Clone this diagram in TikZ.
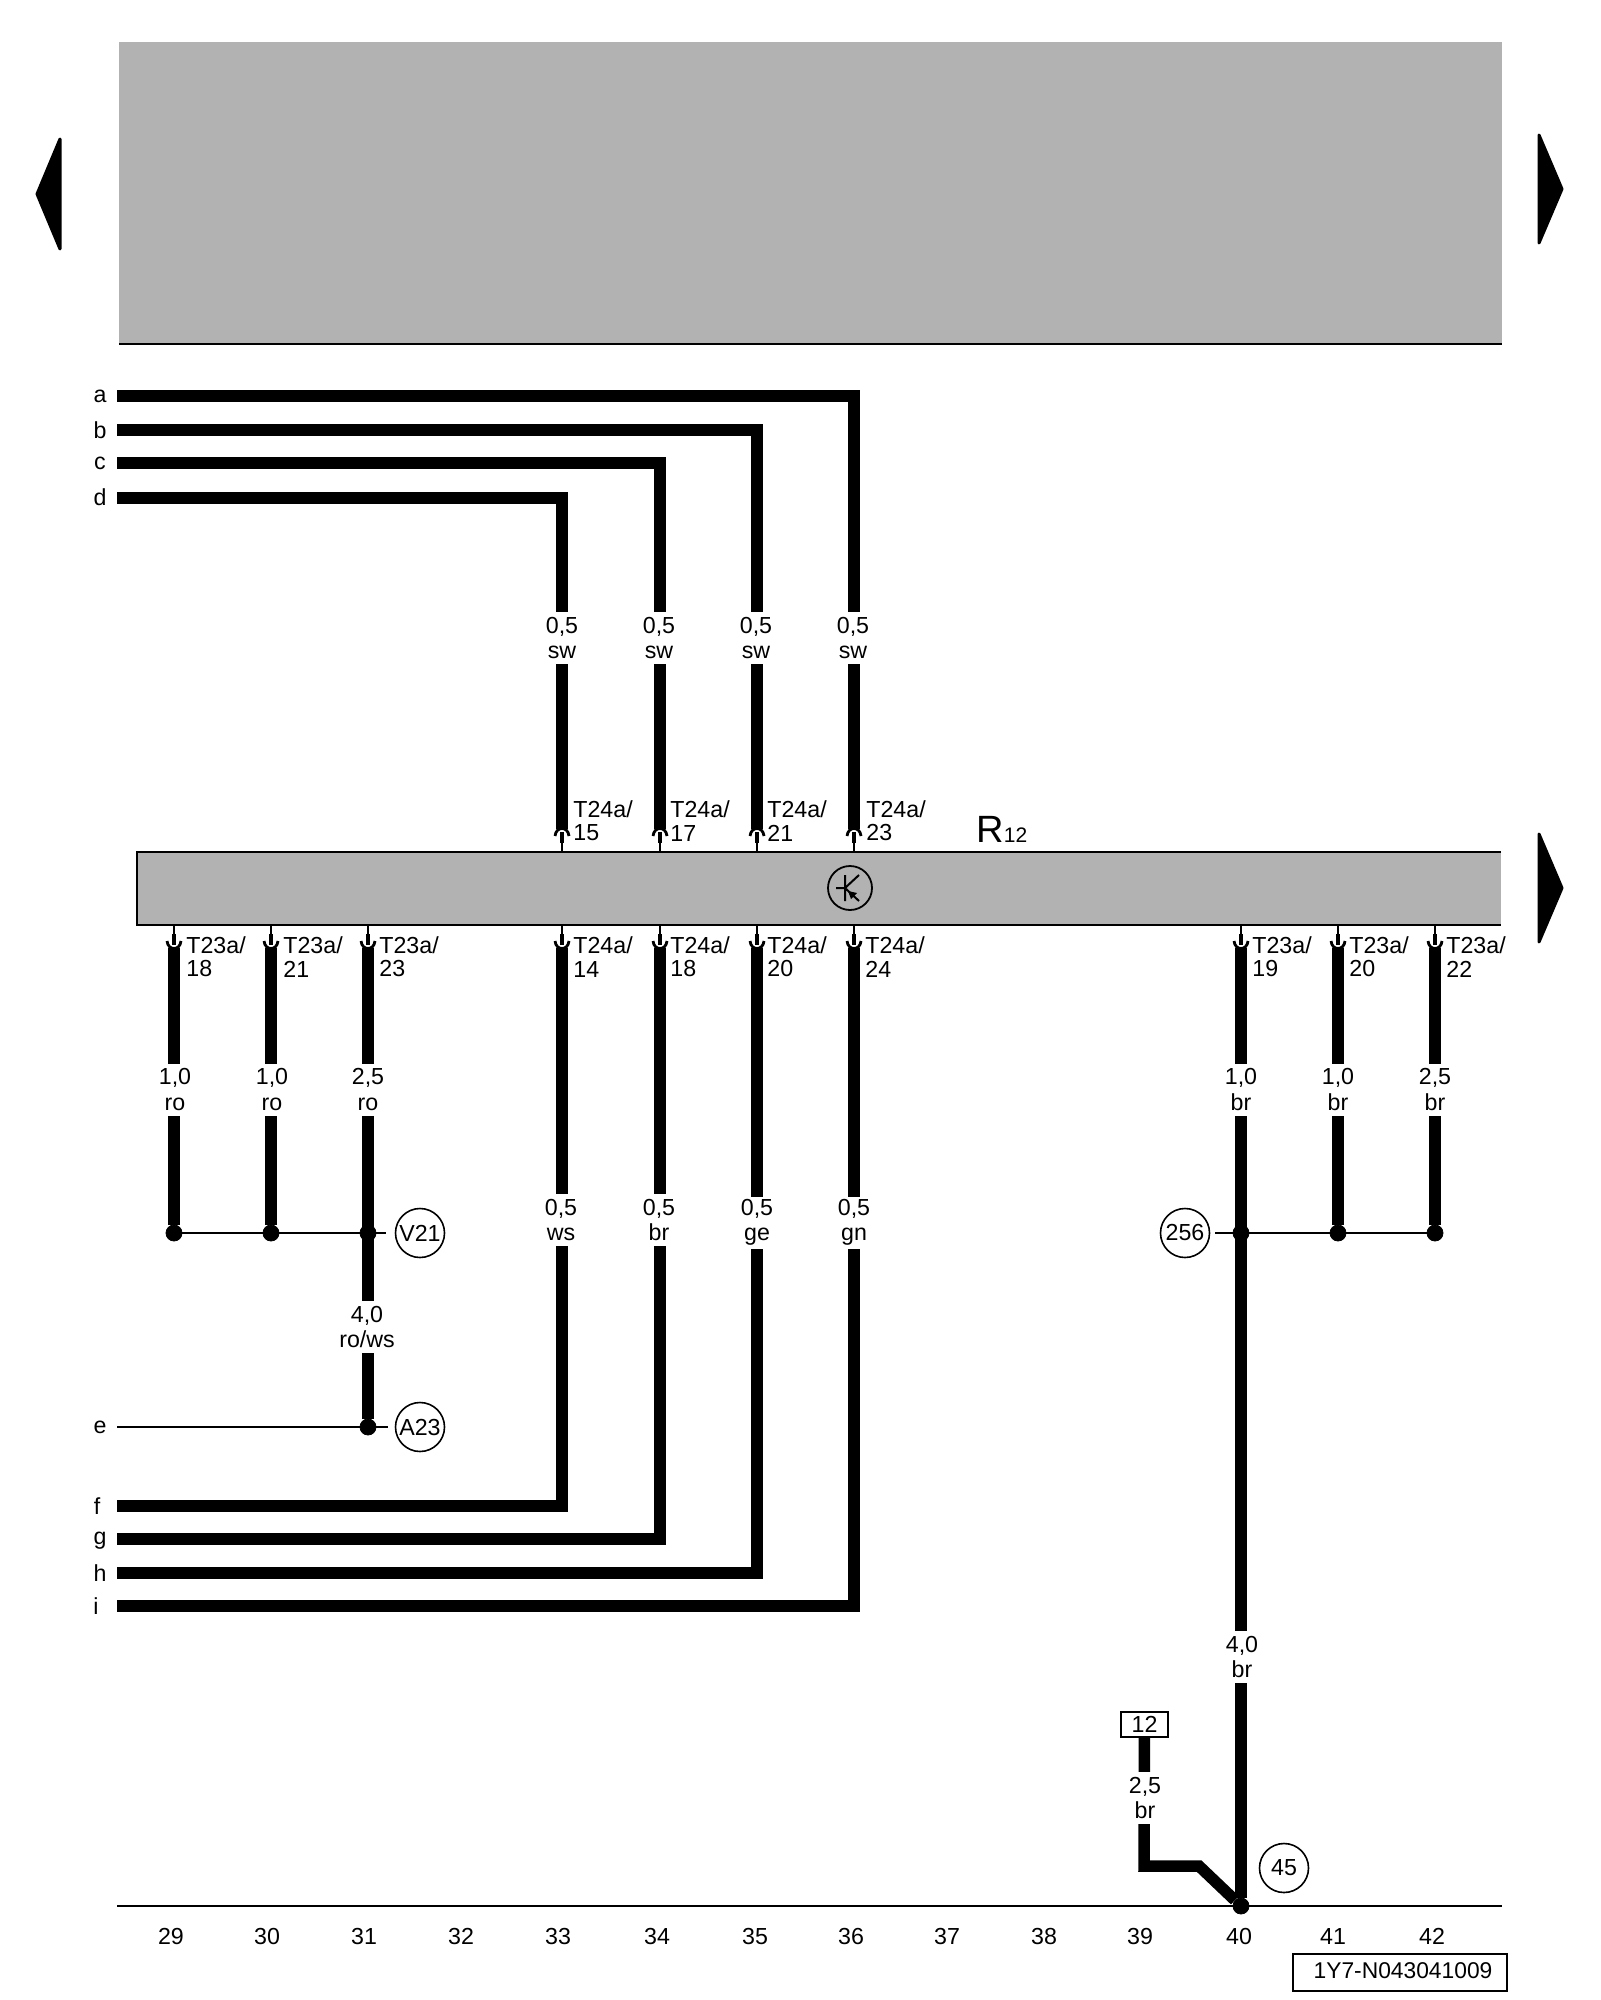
\documentclass[tikz,border=0pt]{standalone}
\usepackage{fontspec}
\setmainfont{Liberation Sans}
\usepackage{xcolor}
\usepackage{tikz}
\usetikzlibrary{backgrounds,fit,calc}
\definecolor{panelgray}{HTML}{B2B2B2}

\begin{document}
\begin{tikzpicture}[x=0.5pt,y=-0.5pt,font=\fontsize{11.6}{12.75}\selectfont]
      \tikzstyle{wire} = [line width=5.75pt]
      \tikzstyle{thinwire} = [line width=0.9pt]
      \tikzstyle{wirelabel} = [fill=white,inner sep=0pt,minimum width=8pt,minimum height=26pt,align=center]
      \tikzstyle{pinlabel} = [anchor=west,inner sep=0pt,align=left,font=\fontsize{11.6}{11.6}\selectfont]
      \tikzstyle{letter} = [inner sep=0pt]
      \tikzstyle{junction} = [draw,fill,shape=circle,minimum size=8pt,inner sep=0pt]
      \tikzstyle{ref} = [draw,fill=white,shape=circle,line width=0.8pt,minimum size=24.5pt,inner sep=0pt]
      \tikzstyle{column} = [inner sep=0pt]
      \tikzset{
        pinup/.pic={
          \draw[thinwire] (0,0) -- (0,-9);
          \draw[line width=2.3pt] (0,-9) -- (0,-20);
          \draw[line width=1.4pt] (-7,-16) .. controls (-6,-26) and (6,-26) .. (7,-16);
        },
        pindown/.pic={
          \draw[thinwire] (0,0) -- (0,9);
          \draw[line width=2.3pt] (0,9) -- (0,20);
          \draw[line width=1.4pt] (-7,16) .. controls (-6,26) and (6,26) .. (7,16);
        }
      }
      \useasboundingbox (0,0) rectangle (1600,2000);
      %
      % Page arrows and header panel.
      \fill[panelgray] (119,42) rectangle (1502,343);
      \draw[line width=1pt] (119,344) -- (1502,344);
      \draw[fill,line width=1.5pt,line join=round] (37,194) -- (60,139) -- (60,249) -- cycle;
      \draw[fill,line width=1.5pt,line join=round] (1562,189) -- (1539,135) -- (1539,243) -- cycle;
      \draw[fill,line width=1.5pt,line join=round] (1562,888) -- (1539,834) -- (1539,942) -- cycle;

      % Module bar.
      \fill[panelgray] (137,852) rectangle (1501,925);
      \draw[line width=1pt] (1501,852) -- (137,852) -- (137,925) -- (1501,925);
      \node[anchor=base west,inner sep=0pt] (R12) at (976,842) {\fontsize{19}{20}\selectfont R\fontsize{10.5}{12}\selectfont 12};

      % Transistor symbol.
      \node[draw,shape=circle,line width=0.9pt,minimum size=22pt,inner sep=0pt] (trans) at (850,888) {};
      \draw[line width=1pt] ($(trans)+(-14,0)$) -- ($(trans)+(-5,0)$) ($(trans)+(-5,-13)$) -- ($(trans)+(-5,13)$)
        ($(trans)+(-5,0)$) -- ($(trans)+(9,-13)$) ($(trans)+(-5,0)$) -- ($(trans)+(9,13)$);
      \fill ($(trans)+(-2,3)$) -- ($(trans)+(7,5)$) -- ($(trans)+(1,11)$) -- cycle;

      % Top pins.
      \pic at (562,852) {pinup};
      \pic at (660,852) {pinup};
      \pic at (757,852) {pinup};
      \pic at (854,852) {pinup};
      \coordinate (P15) at (562,829);
      \coordinate (P17) at (660,829);
      \coordinate (P21) at (757,829);
      \coordinate (P23) at (854,829);
      \node[pinlabel] (T15) at (573,821) {T24a/\\15};
      \node[pinlabel] (T17) at (670,821) {T24a/\\17};
      \node[pinlabel] (T21) at (767,821) {T24a/\\21};
      \node[pinlabel] (T23) at (866,821) {T24a/\\23};

      % Bottom pins.
      \pic at (174,925) {pindown};
      \pic at (271,925) {pindown};
      \pic at (368,925) {pindown};
      \pic at (562,925) {pindown};
      \pic at (660,925) {pindown};
      \pic at (757,925) {pindown};
      \pic at (854,925) {pindown};
      \pic at (1241,925) {pindown};
      \pic at (1338,925) {pindown};
      \pic at (1435,925) {pindown};
      \coordinate (Q18) at (174,948);
      \coordinate (Q21) at (271,948);
      \coordinate (Q23) at (368,948);
      \coordinate (Q14) at (562,948);
      \coordinate (Q16) at (660,948);
      \coordinate (Q20) at (757,948);
      \coordinate (Q24) at (854,948);
      \coordinate (Q19) at (1241,948);
      \coordinate (Q22) at (1338,948);
      \coordinate (Q25) at (1435,948);
      \node[pinlabel] (B18) at (186,957) {T23a/\\18};
      \node[pinlabel] (B21) at (283,957) {T23a/\\21};
      \node[pinlabel] (B23) at (379,957) {T23a/\\23};
      \node[pinlabel] (B14) at (573,957) {T24a/\\14};
      \node[pinlabel] (B16) at (670,957) {T24a/\\18};
      \node[pinlabel] (B20) at (767,957) {T24a/\\20};
      \node[pinlabel] (B24) at (865,957) {T24a/\\24};
      \node[pinlabel] (B19) at (1252,957) {T23a/\\19};
      \node[pinlabel] (B22) at (1349,957) {T23a/\\20};
      \node[pinlabel] (B25) at (1446,957) {T23a/\\22};

      % Left edge letters.
      \node[letter] (a) at (100,396) {a};
      \node[letter] (b) at (100,430) {b};
      \node[letter] (c) at (100,463) {c};
      \node[letter] (d) at (100,497) {d};
      \node[letter] (e) at (100,1427) {e};
      \node[letter] (f) at (97,1506) {f};
      \node[letter] (g) at (100,1541) {g};
      \node[letter] (h) at (100,1573) {h};
      \node[letter] (i) at (96,1606) {i};
      \coordinate (a0) at (117,396);
      \coordinate (b0) at (117,430);
      \coordinate (c0) at (117,463);
      \coordinate (d0) at (117,498);
      \coordinate (e0) at (117,1427);
      \coordinate (f0) at (117,1506);
      \coordinate (g0) at (117,1539);
      \coordinate (h0) at (117,1573);
      \coordinate (i0) at (117,1606);

      % Wire labels, first row.
      \node[wirelabel] (L15) at (562,638) {0,5\\sw};
      \node[wirelabel] (L17) at (659,638) {0,5\\sw};
      \node[wirelabel] (L21) at (756,638) {0,5\\sw};
      \node[wirelabel] (L23) at (853,638) {0,5\\sw};

      % Wire labels, second row.
      \node[wirelabel] (L18) at (175,1089.5) {1,0\\ro};
      \node[wirelabel] (L22) at (272,1089.5) {1,0\\ro};
      \node[wirelabel] (L24) at (368,1089.5) {2,5\\ro};
      \node[wirelabel] (L19) at (1241,1089.5) {1,0\\br};
      \node[wirelabel] (L20) at (1338,1089.5) {1,0\\br};
      \node[wirelabel] (L25) at (1435,1089.5) {2,5\\br};

      % Wire labels, third row.
      \node[wirelabel] (L14) at (561,1220) {0,5\\ws};
      \node[wirelabel] (L16) at (659,1220) {0,5\\br};
      \node[wirelabel] (L30) at (757,1222.5) {0,5\\ge};
      \node[wirelabel] (L34) at (854,1222.5) {0,5\\gn};

      % Remaining wire labels.
      \node[wirelabel] (L40) at (367,1327) {4,0\\ro/ws};
      \node[wirelabel] (L41) at (1242,1657) {4,0\\br};
      \node[wirelabel] (L12) at (1145,1798) {2,5\\br};

      % Junctions.
      \node[junction] (J1) at (174,1233) {};
      \node[junction] (J2) at (271,1233) {};
      \node[junction] (J3) at (368,1233) {};
      \node[junction] (J4) at (368,1427) {};
      \node[junction] (J5) at (1241,1233) {};
      \node[junction] (J6) at (1338,1233) {};
      \node[junction] (J7) at (1435,1233) {};
      \node[junction] (J8) at (1241,1906) {};

      % Reference circles.
      \node[ref] (V21) at (420,1233) {V21};
      \node[ref] (A23) at (420,1427) {A23};
      \node[ref] (C256) at (1185,1233) {256};
      \node[ref] (C45) at (1284,1868) {45};
      \coordinate (V21end) at (386,1233);
      \coordinate (A23end) at (388,1427);
      \coordinate (C256end) at (1215,1233);

      % Terminal box, ground run and sheet number.
      \node[draw,line width=0.8pt,minimum width=23.5pt,minimum height=12.5pt,inner sep=0pt] (B12) at (1144.5,1724.5) {12};
      \coordinate (bend1) at (1144,1866);
      \coordinate (bend2) at (1199,1866);
      \coordinate (axis0) at (117,1906);
      \coordinate (axis1) at (1502,1906);
      \node[draw,line width=0.8pt,minimum width=107pt,minimum height=18.5pt,inner sep=0pt,font=\fontsize{11.4}{12}\selectfont] (sheet) at (1400,1972.5) {\hspace*{3pt}\raisebox{1.5pt}{1Y7-N043041009}};

      % Column numbers.
      \node[column] (c29) at (171,1936) {29};
      \node[column] (c30) at (267,1936) {30};
      \node[column] (c31) at (364,1936) {31};
      \node[column] (c32) at (461,1936) {32};
      \node[column] (c33) at (558,1936) {33};
      \node[column] (c34) at (657,1936) {34};
      \node[column] (c35) at (755,1936) {35};
      \node[column] (c36) at (851,1936) {36};
      \node[column] (c37) at (947,1936) {37};
      \node[column] (c38) at (1044,1936) {38};
      \node[column] (c39) at (1140,1936) {39};
      \node[column] (c40) at (1239,1936) {40};
      \node[column] (c41) at (1333,1936) {41};
      \node[column] (c42) at (1432,1936) {42};

      \begin{pgfonlayer}{background}
          % Draw lines.
          \draw[wire] (a0) -| (P23);
          \draw[wire] (b0) -| (P21);
          \draw[wire] (c0) -| (P17);
          \draw[wire] (d0) -| (P15);
          \draw[wire] (f0) -| (Q14);
          \draw[wire] (g0) -| (Q16);
          \draw[wire] (h0) -| (Q20);
          \draw[wire] (i0) -| (Q24);
          \draw[wire] (Q18) -- (J1);
          \draw[wire] (Q21) -- (J2);
          \draw[wire] (Q23) -- (J4);
          \draw[wire] (Q19) -- (J8);
          \draw[wire] (Q22) -- (J6);
          \draw[wire] (Q25) -- (J7);
          \draw[wire] (B12) -- (bend1) -- (bend2) -- (J8);
          \draw[thinwire] (J1) -- (V21end) (C256end) -- (J7) (e0) -- (A23end) (axis0) -- (axis1);
      \end{pgfonlayer}
      %
\end{tikzpicture}
\end{document}
